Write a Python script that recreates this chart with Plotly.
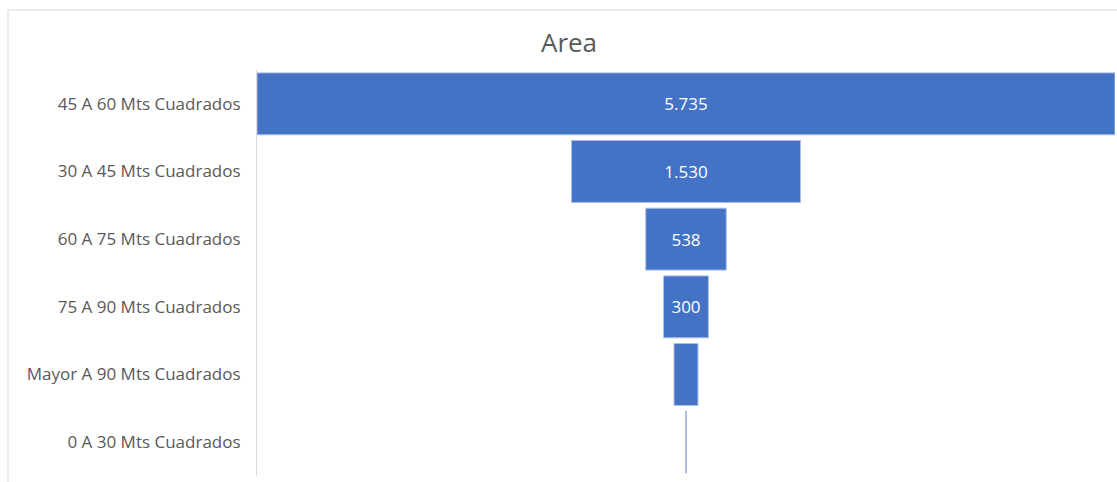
import plotly.graph_objects as go

# Dwelling size ranges and number of units in each
categories = [
    "45 A 60 Mts Cuadrados",
    "30 A 45 Mts Cuadrados",
    "60 A 75 Mts Cuadrados",
    "75 A 90 Mts Cuadrados",
    "Mayor A 90 Mts Cuadrados",
    "0 A 30 Mts Cuadrados",
]
values = [5735, 1530, 538, 300, 160, 6]
# labels only where they fit inside the bar
show_label = [True, True, True, True, False, False]

FONT = "Open Sans"

fig = go.Figure(
    go.Funnel(
        y=categories,
        x=values,
        texttemplate=["%{value:,}" if s else "" for s in show_label],
        textposition="inside",
        textfont=dict(color="white", size=17, family=FONT),
        insidetextanchor="middle",
        marker=dict(color="#4472C4", line=dict(color="#A9BEE6", width=1)),
        connector=dict(visible=False),
        hoverinfo="y+x",
    )
)

fig.update_layout(
    width=1117,
    height=482,
    margin=dict(l=257, r=2, t=70, b=6),
    paper_bgcolor="white",
    plot_bgcolor="white",
    separators=",.",
    funnelgap=0.085,
    showlegend=False,
    font=dict(family=FONT, color="#595959", size=17),
    title=dict(
        text="Area",
        x=569 / 1117,
        xanchor="center",
        y=1 - 43 / 482,
        yanchor="middle",
        font=dict(size=26, color="#595959", family=FONT),
    ),
    xaxis=dict(
        range=[-values[0] / 2, values[0] / 2],
        visible=False,
        showgrid=False,
        zeroline=False,
    ),
    yaxis=dict(
        showline=True,
        linecolor="#D9D9D9",
        linewidth=1,
        showgrid=False,
        ticks="",
        ticklabelstandoff=12,
        tickfont=dict(size=17, color="#595959", family=FONT),
    ),
    shapes=[
        # chart frame
        dict(
            type="rect",
            xref="paper",
            yref="paper",
            x0=(8 - 257) / 858,
            x1=1.05,
            y0=-0.1,
            y1=1 + 60 / 406,
            line=dict(color="#D9D9D9", width=1),
            fillcolor="rgba(0,0,0,0)",
            layer="below",
        )
    ],
)

fig.write_html("out.html")
